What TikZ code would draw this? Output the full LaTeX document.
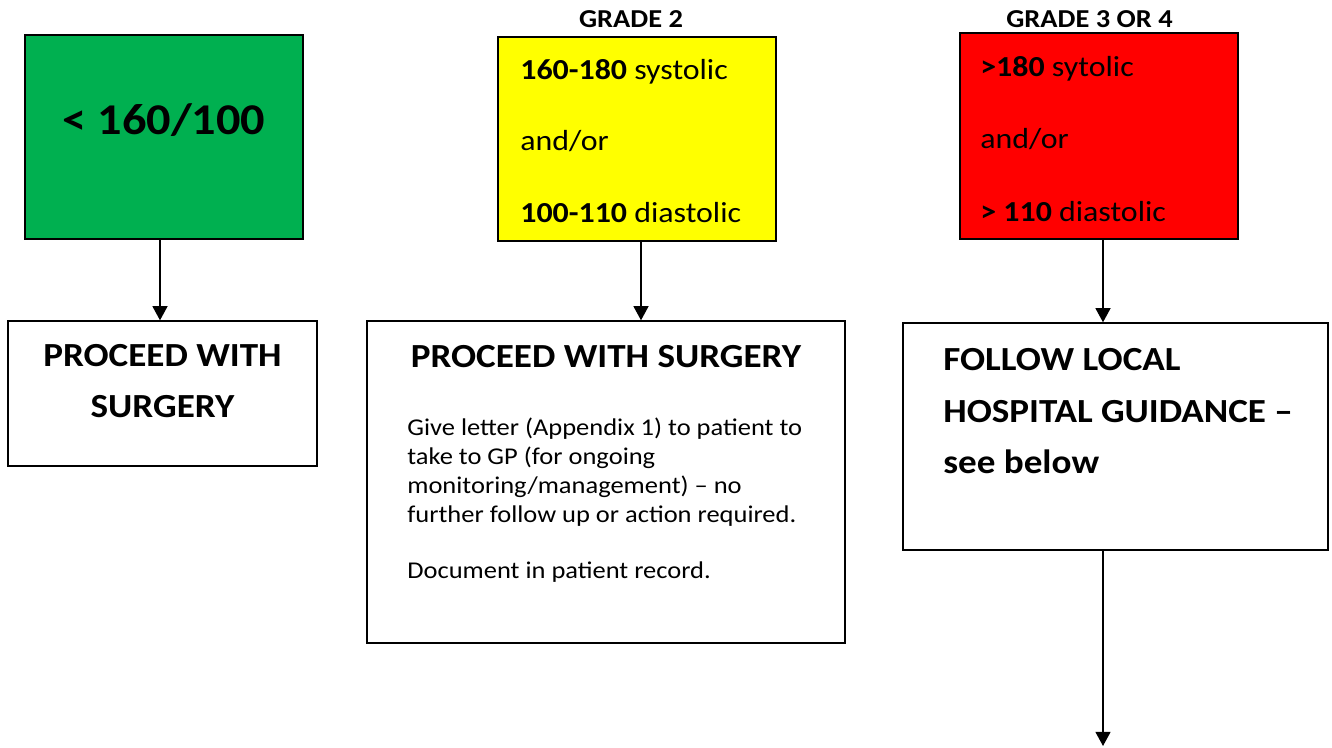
\documentclass[tikz,border=0pt]{standalone}
\usepackage{fontspec}
\setmainfont{Carlito}[FakeStretch=1.1]
\usetikzlibrary{arrows.meta, positioning}
\definecolor{grn}{HTML}{00B050}
\definecolor{ylw}{HTML}{FFFF00}

\begin{document}
\begin{tikzpicture}[every node/.style={inner sep=0mm},
                bx/.style={draw, line width=0.8pt},
                gr/.style={bx, fill=grn},
                yl/.style={bx, fill=ylw},
                rd/.style={bx, fill=red},
                wh/.style={bx, fill=white},
                big/.style={font=\fontsize{25}{30}\selectfont\bfseries},
                hd/.style={font=\fontsize{19.2}{23}\selectfont\bfseries},
                gd/.style={font=\fontsize{14.7}{18}\selectfont\bfseries},
                lv/.style={font=\fontsize{16.5}{20}\selectfont, anchor=base west},
                tx/.style={font=\fontsize{13.7}{16.5}\selectfont, anchor=base west},
                arr/.style={line width=0.8pt, -{Triangle[width=8.5pt, length=8pt]}}]

    \useasboundingbox (0mm, 0mm) rectangle (266.4mm, 149.6mm); % 1332 x 748 px at 0.2 mm

    % top row: blood pressure bands
    \node [gr, minimum width=55.6mm, minimum height=40.8mm] (g) at (32.8mm, 122.2mm) {};
    \node [yl, minimum width=55.6mm, minimum height=40.8mm] (y) at (127.4mm, 121.8mm) {};
    \node [rd, minimum width=55.6mm, minimum height=41.2mm] (r) at (219.8mm, 122.4mm) {};

    \node [big, anchor=base] (gt) at (32.8mm, 122.6mm) {< 160/100};

    \node [gd, anchor=base] (g2) at (126.2mm, 144.1mm) {GRADE 2};
    \node [lv] (y1) at (104.0mm, 133.6mm) {\textbf{160-180} systolic};
    \node [lv] (y2) at (104.0mm, 119.4mm) {and/or};
    \node [lv] (y3) at (104.0mm, 105.0mm) {\textbf{100-110} diastolic};

    \node [gd, anchor=base] (g3) at (217.9mm, 144.1mm) {GRADE 3 OR 4};
    \node [lv] (r1) at (196.0mm, 134.2mm) {\textbf{>180} sytolic};
    \node [lv] (r2) at (196.0mm, 119.8mm) {and/or};
    \node [lv] (r3) at (196.0mm, 105.2mm) {\textbf{> 110} diastolic};

    % bottom row: actions
    \node [wh, minimum width=61.8mm, minimum height=29.0mm] (p1) at (32.5mm, 70.9mm) {};
    \node [wh, minimum width=95.6mm, minimum height=64.4mm] (p2) at (121.2mm, 53.2mm) {};
    \node [wh, minimum width=85.0mm, minimum height=45.4mm] (f)  at (223.1mm, 62.3mm) {};

    \node [hd, anchor=base] (p1a) at (32.5mm, 76.2mm) {PROCEED WITH};
    \node [hd, anchor=base] (p1b) at (32.5mm, 66.0mm) {SURGERY};

    \node [hd, anchor=base] (p2a) at (121.2mm, 76.0mm) {PROCEED WITH SURGERY};
    \node [tx] (t1) at (81.4mm, 62.4mm) {Give letter (Appendix 1) to patient to};
    \node [tx] (t2) at (81.4mm, 56.6mm) {take to GP (for ongoing};
    \node [tx] (t3) at (81.4mm, 50.8mm) {monitoring/management) – no};
    \node [tx] (t4) at (81.4mm, 45.0mm) {further follow up or action required.};
    \node [tx] (t5) at (81.4mm, 33.8mm) {Document in patient record.};

    \node [hd, anchor=base west] (f1) at (188.6mm, 75.4mm) {FOLLOW LOCAL};
    \node [hd, anchor=base west] (f2) at (188.6mm, 65.0mm) {HOSPITAL GUIDANCE –};
    \node [hd, anchor=base west] (f3) at (188.6mm, 54.8mm) {see below};

    \coordinate (end) at (220.6mm, 0.4mm);

    % arrows
    \draw [arr] ([xshift=-0.8mm]g.south) -- ([xshift=-0.8mm]g.south |- p1.north);
    \draw [arr] ([xshift=0.8mm]y.south) -- ([xshift=0.8mm]y.south |- p2.north);
    \draw [arr] ([xshift=0.8mm]r.south) -- ([xshift=0.8mm]r.south |- f.north);
    \draw [arr] (end |- f.south) -- (end);

\end{tikzpicture}
\end{document}
